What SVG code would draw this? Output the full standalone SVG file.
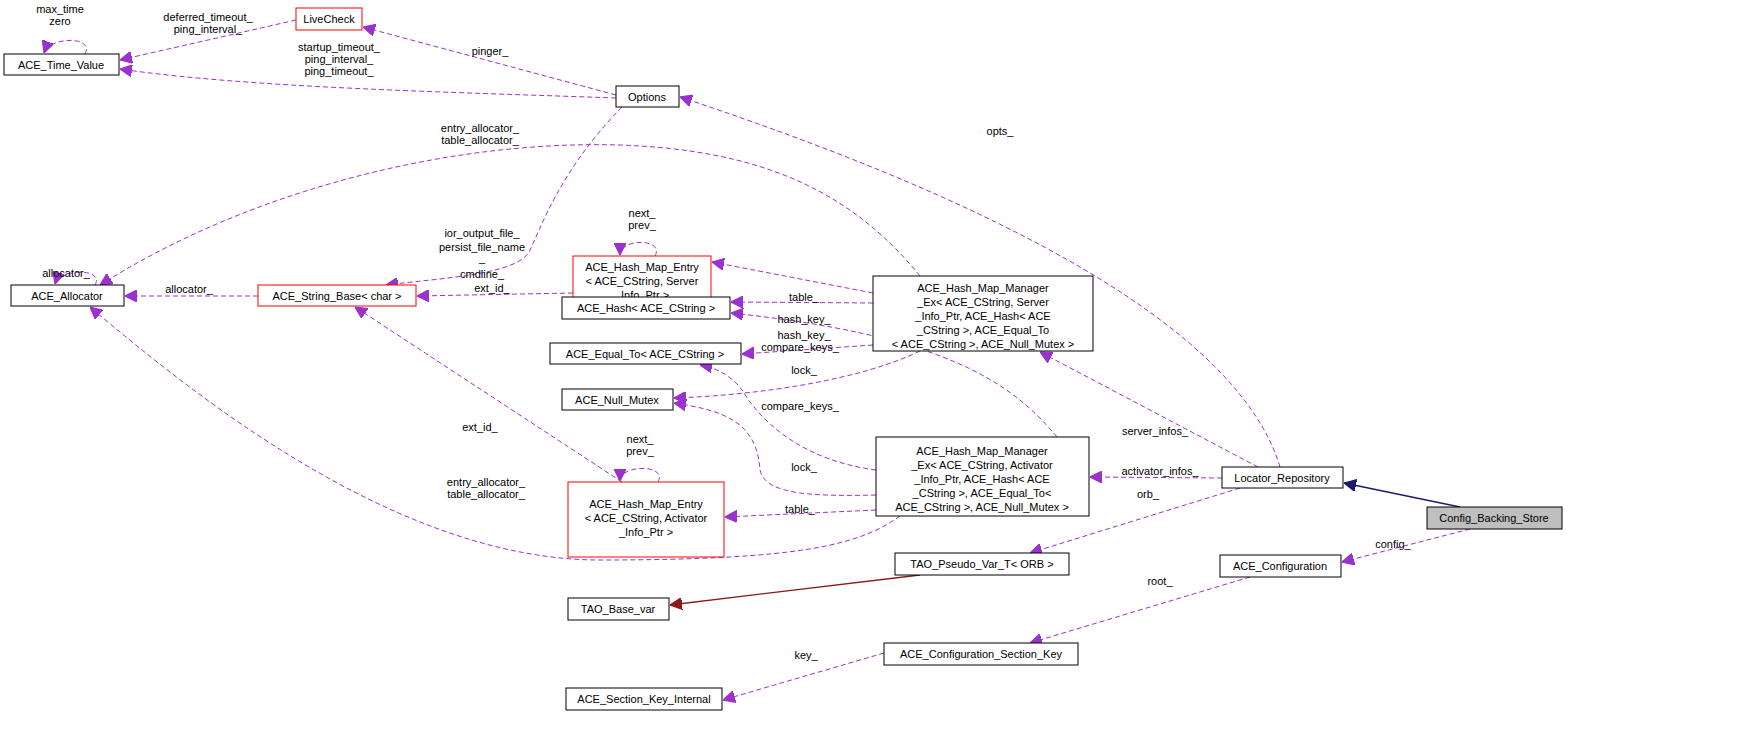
<svg xmlns="http://www.w3.org/2000/svg" width="1756" height="753" viewBox="0 0 1756 753">
<defs>
<marker id="ap" viewBox="0 0 10 10" refX="10" refY="5" markerWidth="12" markerHeight="12" markerUnits="userSpaceOnUse" orient="auto"><path d="M0,0L10,5L0,10z" fill="#9a32cd" stroke="#9a32cd"/></marker>
<marker id="an" viewBox="0 0 10 10" refX="10" refY="5" markerWidth="12" markerHeight="12" markerUnits="userSpaceOnUse" orient="auto"><path d="M0,0L10,5L0,10z" fill="#191970" stroke="#191970"/></marker>
<marker id="ar" viewBox="0 0 10 10" refX="10" refY="5" markerWidth="12" markerHeight="12" markerUnits="userSpaceOnUse" orient="auto"><path d="M0,0L10,5L0,10z" fill="#8b1a1a" stroke="#8b1a1a"/></marker>
</defs>
<style>
text{font-family:"Liberation Sans",Arial,sans-serif;font-size:11px;fill:#000;text-anchor:middle}
.n rect{fill:#fff;stroke:#000;stroke-width:1}
.n.r rect{stroke:#ff0000}
.n.g rect{fill:#bfbfbf}
#edges path{fill:none}
.d{stroke:#9a32cd;stroke-dasharray:5,3;marker-end:url(#ap)}
</style>
<rect width="1756" height="753" fill="#fff"/>
<g id="edges">
<path class="d" d="M85,54C95,36 50,36 44,53"/>
<path class="d" d="M296,20L120,60"/>
<path class="d" d="M616,95L363,27"/>
<path class="d" d="M616,98C450,92 250,88 120,69"/>
<path class="d" d="M622,107C560,170 540,230 530,250C520,275 440,278 386,285"/>
<path class="d" d="M920,276C850,190 760,150 620,145C450,140 250,190 100,285"/>
<path class="d" d="M95,285C105,268 60,268 55,284"/>
<path class="d" d="M258,296L125,296"/>
<path class="d" d="M573,293L417,296"/>
<path class="d" d="M655,256C665,238 620,238 620,255"/>
<path class="d" d="M873,293L712,262"/>
<path class="d" d="M873,303L731,302"/>
<path class="d" d="M873,345L742,354"/>
<path class="d" d="M920,351C860,380 760,395 674,398"/>
<path class="d" d="M1057,437C1010,380 940,335 731,313"/>
<path class="d" d="M876,470C800,460 760,420 742,390C735,380 720,368 700,365"/>
<path class="d" d="M876,495C800,497 765,492 760,470C757,420 720,410 674,403"/>
<path class="d" d="M876,510L725,517"/>
<path class="d" d="M900,516C860,545 800,560 600,560C400,560 200,400 90,307"/>
<path class="d" d="M622,482L355,307"/>
<path class="d" d="M658,482C668,464 620,464 620,481"/>
<path class="d" d="M1280,467C1230,300 900,170 680,97"/>
<path class="d" d="M1258,467L1040,352"/>
<path class="d" d="M1222,478L1090,477"/>
<path class="d" d="M1240,488L1030,553"/>
<path d="M1460,507L1344,483" stroke="#191970" stroke-width="1.3" marker-end="url(#an)"/>
<path d="M920,575L670,605" stroke="#8b1a1a" stroke-width="1.3" marker-end="url(#ar)"/>
<path class="d" d="M1470,529L1342,562"/>
<path class="d" d="M1250,577L1030,643"/>
<path class="d" d="M884,653L723,700"/>
</g>
<g id="labels">
<text x="60" y="13">max_time</text><text x="60" y="25">zero</text>
<text x="208" y="21">deferred_timeout_</text><text x="208" y="33">ping_interval_</text>
<text x="490" y="55">pinger_</text>
<text x="339" y="51">startup_timeout_</text><text x="339" y="63">ping_interval_</text><text x="339" y="75">ping_timeout_</text>
<text x="480" y="132">entry_allocator_</text><text x="480" y="144">table_allocator_</text>
<text x="482" y="237">ior_output_file_</text><text x="482" y="251">persist_file_name</text><text x="482" y="262">_</text><text x="482" y="278">cmdline_</text>
<text x="66" y="277">allocator_</text>
<text x="189" y="293">allocator_</text>
<text x="492" y="292">ext_id_</text>
<text x="642" y="217">next_</text><text x="642" y="229">prev_</text>
<text x="804" y="301">table_</text>
<text x="804" y="323">hash_key_</text>
<text x="804" y="339">hash_key_</text>
<text x="800" y="351">compare_keys_</text>
<text x="804" y="374">lock_</text>
<text x="800" y="410">compare_keys_</text>
<text x="804" y="471">lock_</text>
<text x="800" y="513">table_</text>
<text x="486" y="486">entry_allocator_</text><text x="486" y="498">table_allocator_</text>
<text x="480" y="431">ext_id_</text>
<text x="640" y="443">next_</text><text x="640" y="455">prev_</text>
<text x="1000" y="135">opts_</text>
<text x="1155" y="435">server_infos_</text>
<text x="1160" y="475">activator_infos_</text>
<text x="1148" y="498">orb_</text>
<text x="1393" y="548">config_</text>
<text x="1160" y="585">root_</text>
<text x="806" y="659">key_</text>
</g>
<g id="n_tv" class="n"><rect x="4" y="54" width="115" height="21"/><text x="61" y="69">ACE_Time_Value</text></g>
<g id="n_lc" class="n r"><rect x="296" y="8" width="66" height="22"/><text x="329" y="23">LiveCheck</text></g>
<g id="n_opt" class="n"><rect x="616" y="86" width="63" height="21"/><text x="647" y="101">Options</text></g>
<g id="n_alloc" class="n"><rect x="11" y="285" width="113" height="21"/><text x="67" y="300">ACE_Allocator</text></g>
<g id="n_sb" class="n r"><rect x="258" y="285" width="158" height="21"/><text x="337" y="300">ACE_String_Base&lt; char &gt;</text></g>
<g id="n_hmes" class="n r"><rect x="573" y="256" width="138" height="54"/><text x="642" y="271">ACE_Hash_Map_Entry</text><text x="642" y="285">&lt; ACE_CString, Server</text><text x="642" y="299">_Info_Ptr &gt;</text></g>
<g id="n_hash" class="n"><rect x="562" y="297" width="168" height="22"/><text x="646" y="312">ACE_Hash&lt; ACE_CString &gt;</text></g>
<g id="n_eq" class="n"><rect x="550" y="343" width="191" height="21"/><text x="645" y="358">ACE_Equal_To&lt; ACE_CString &gt;</text></g>
<g id="n_nm" class="n"><rect x="562" y="389" width="111" height="21"/><text x="617" y="404">ACE_Null_Mutex</text></g>
<g id="n_hmea" class="n r"><rect x="568" y="482" width="156" height="75"/><text x="646" y="508">ACE_Hash_Map_Entry</text><text x="646" y="522">&lt; ACE_CString, Activator</text><text x="646" y="536">_Info_Ptr &gt;</text></g>
<g id="n_hmms" class="n"><rect x="873" y="276" width="220" height="75"/><text x="983" y="292">ACE_Hash_Map_Manager</text><text x="983" y="306">_Ex&lt; ACE_CString, Server</text><text x="983" y="320">_Info_Ptr, ACE_Hash&lt; ACE</text><text x="983" y="334">_CString &gt;, ACE_Equal_To</text><text x="983" y="348">&lt; ACE_CString &gt;, ACE_Null_Mutex &gt;</text></g>
<g id="n_hmma" class="n"><rect x="876" y="437" width="213" height="79"/><text x="982" y="455">ACE_Hash_Map_Manager</text><text x="982" y="469">_Ex&lt; ACE_CString, Activator</text><text x="982" y="483">_Info_Ptr, ACE_Hash&lt; ACE</text><text x="982" y="497">_CString &gt;, ACE_Equal_To&lt;</text><text x="982" y="511">ACE_CString &gt;, ACE_Null_Mutex &gt;</text></g>
<g id="n_lr" class="n"><rect x="1222" y="467" width="121" height="21"/><text x="1282" y="482">Locator_Repository</text></g>
<g id="n_cbs" class="n g"><rect x="1427" y="507" width="135" height="22"/><text x="1494" y="522">Config_Backing_Store</text></g>
<g id="n_pv" class="n"><rect x="895" y="553" width="174" height="22"/><text x="982" y="568">TAO_Pseudo_Var_T&lt; ORB &gt;</text></g>
<g id="n_cfg" class="n"><rect x="1220" y="555" width="121" height="22"/><text x="1280" y="570">ACE_Configuration</text></g>
<g id="n_bv" class="n"><rect x="568" y="598" width="101" height="22"/><text x="618" y="613">TAO_Base_var</text></g>
<g id="n_csk" class="n"><rect x="884" y="643" width="194" height="22"/><text x="981" y="658">ACE_Configuration_Section_Key</text></g>
<g id="n_ski" class="n"><rect x="566" y="688" width="156" height="22"/><text x="644" y="703">ACE_Section_Key_Internal</text></g>
</svg>
